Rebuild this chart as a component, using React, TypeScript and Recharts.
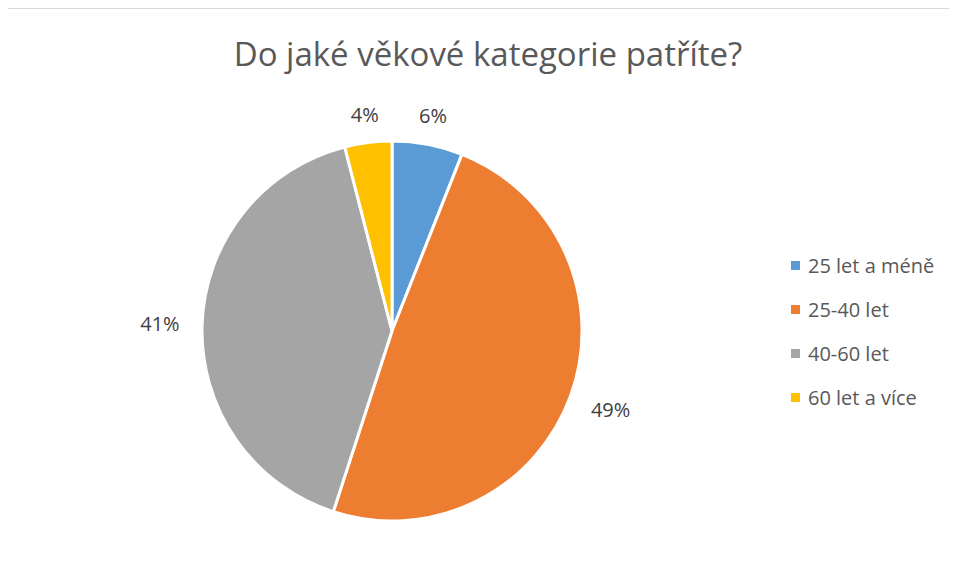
import { PieChart, Pie, Cell, Legend } from "recharts"

const categories = ["25 let a méně", "25-40 let", "40-60 let", "60 let a více"]
const shares = [6, 49, 41, 4]
const colors = ["#5B9BD5", "#ED7D31", "#A5A5A5", "#FFC000"]

const data = categories.map((name, i) => ({ name, value: shares[i] }))

const FONT = "'Open Sans', 'DejaVu Sans', sans-serif"
const RAD = Math.PI / 180

// labels sit just outside the rim, pushed further out where the text is wide
const renderLabel = (props: any) => {
  const { cx, cy, midAngle, outerRadius, value } = props
  const c = Math.cos(-midAngle * RAD)
  const s = Math.sin(-midAngle * RAD)
  const r = outerRadius + 20 + 22 * Math.abs(c) + 5 * Math.abs(s)
  return (
    <text
      x={cx + r * c}
      y={cy + r * s}
      textAnchor="middle"
      dominantBaseline="central"
      fill="#404040"
      fontSize={20}
      fontFamily={FONT}
    >
      {`${value}%`}
    </text>
  )
}

const LegendList = () => (
  <div style={{ fontFamily: FONT, fontSize: 20, color: "#595959" }}>
    {data.map((d, i) => (
      <div key={d.name} style={{ display: "flex", alignItems: "center", height: 44, whiteSpace: "nowrap" }}>
        <span style={{ width: 9, height: 9, background: colors[i], marginRight: 8, flex: "none" }} />
        <span>{d.name}</span>
      </div>
    ))}
  </div>
)

export default function App() {
  return (
    <div style={{ position: "relative", width: 949, height: 573, background: "#fff" }}>
      {/* chart frame: only its top and left edges fall inside the window */}
      <div style={{ position: "absolute", left: -1, top: 0, width: 1, height: 573, background: "#d9d9d9" }} />
      <div style={{ position: "absolute", left: -1, top: 0, width: 950, height: 1, background: "#d9d9d9" }} />
      <div
        style={{
          position: "absolute",
          left: 0,
          top: 29,
          width: 960,
          textAlign: "center",
          fontFamily: FONT,
          fontSize: 33,
          lineHeight: 1,
          color: "#595959",
        }}
      >
        Do jaké věkové kategorie patříte?
      </div>
      <div style={{ position: "absolute", left: 0, top: 1 }}>
        <PieChart width={949} height={572} margin={{ top: 0, right: 0, bottom: 0, left: 0 }}>
          <Pie
            data={data}
            dataKey="value"
            nameKey="name"
            cx={384}
            cy={322}
            outerRadius={190}
            startAngle={90}
            endAngle={-270}
            stroke="#fff"
            strokeWidth={3}
            label={renderLabel}
            labelLine={false}
            isAnimationActive={false}
          >
            {data.map((d, i) => (
              <Cell key={d.name} fill={colors[i]} />
            ))}
          </Pie>
          <Legend
            layout="vertical"
            content={() => <LegendList />}
            wrapperStyle={{ position: "absolute", left: 783, top: 234, width: 170 }}
          />
        </PieChart>
      </div>
    </div>
  )
}
